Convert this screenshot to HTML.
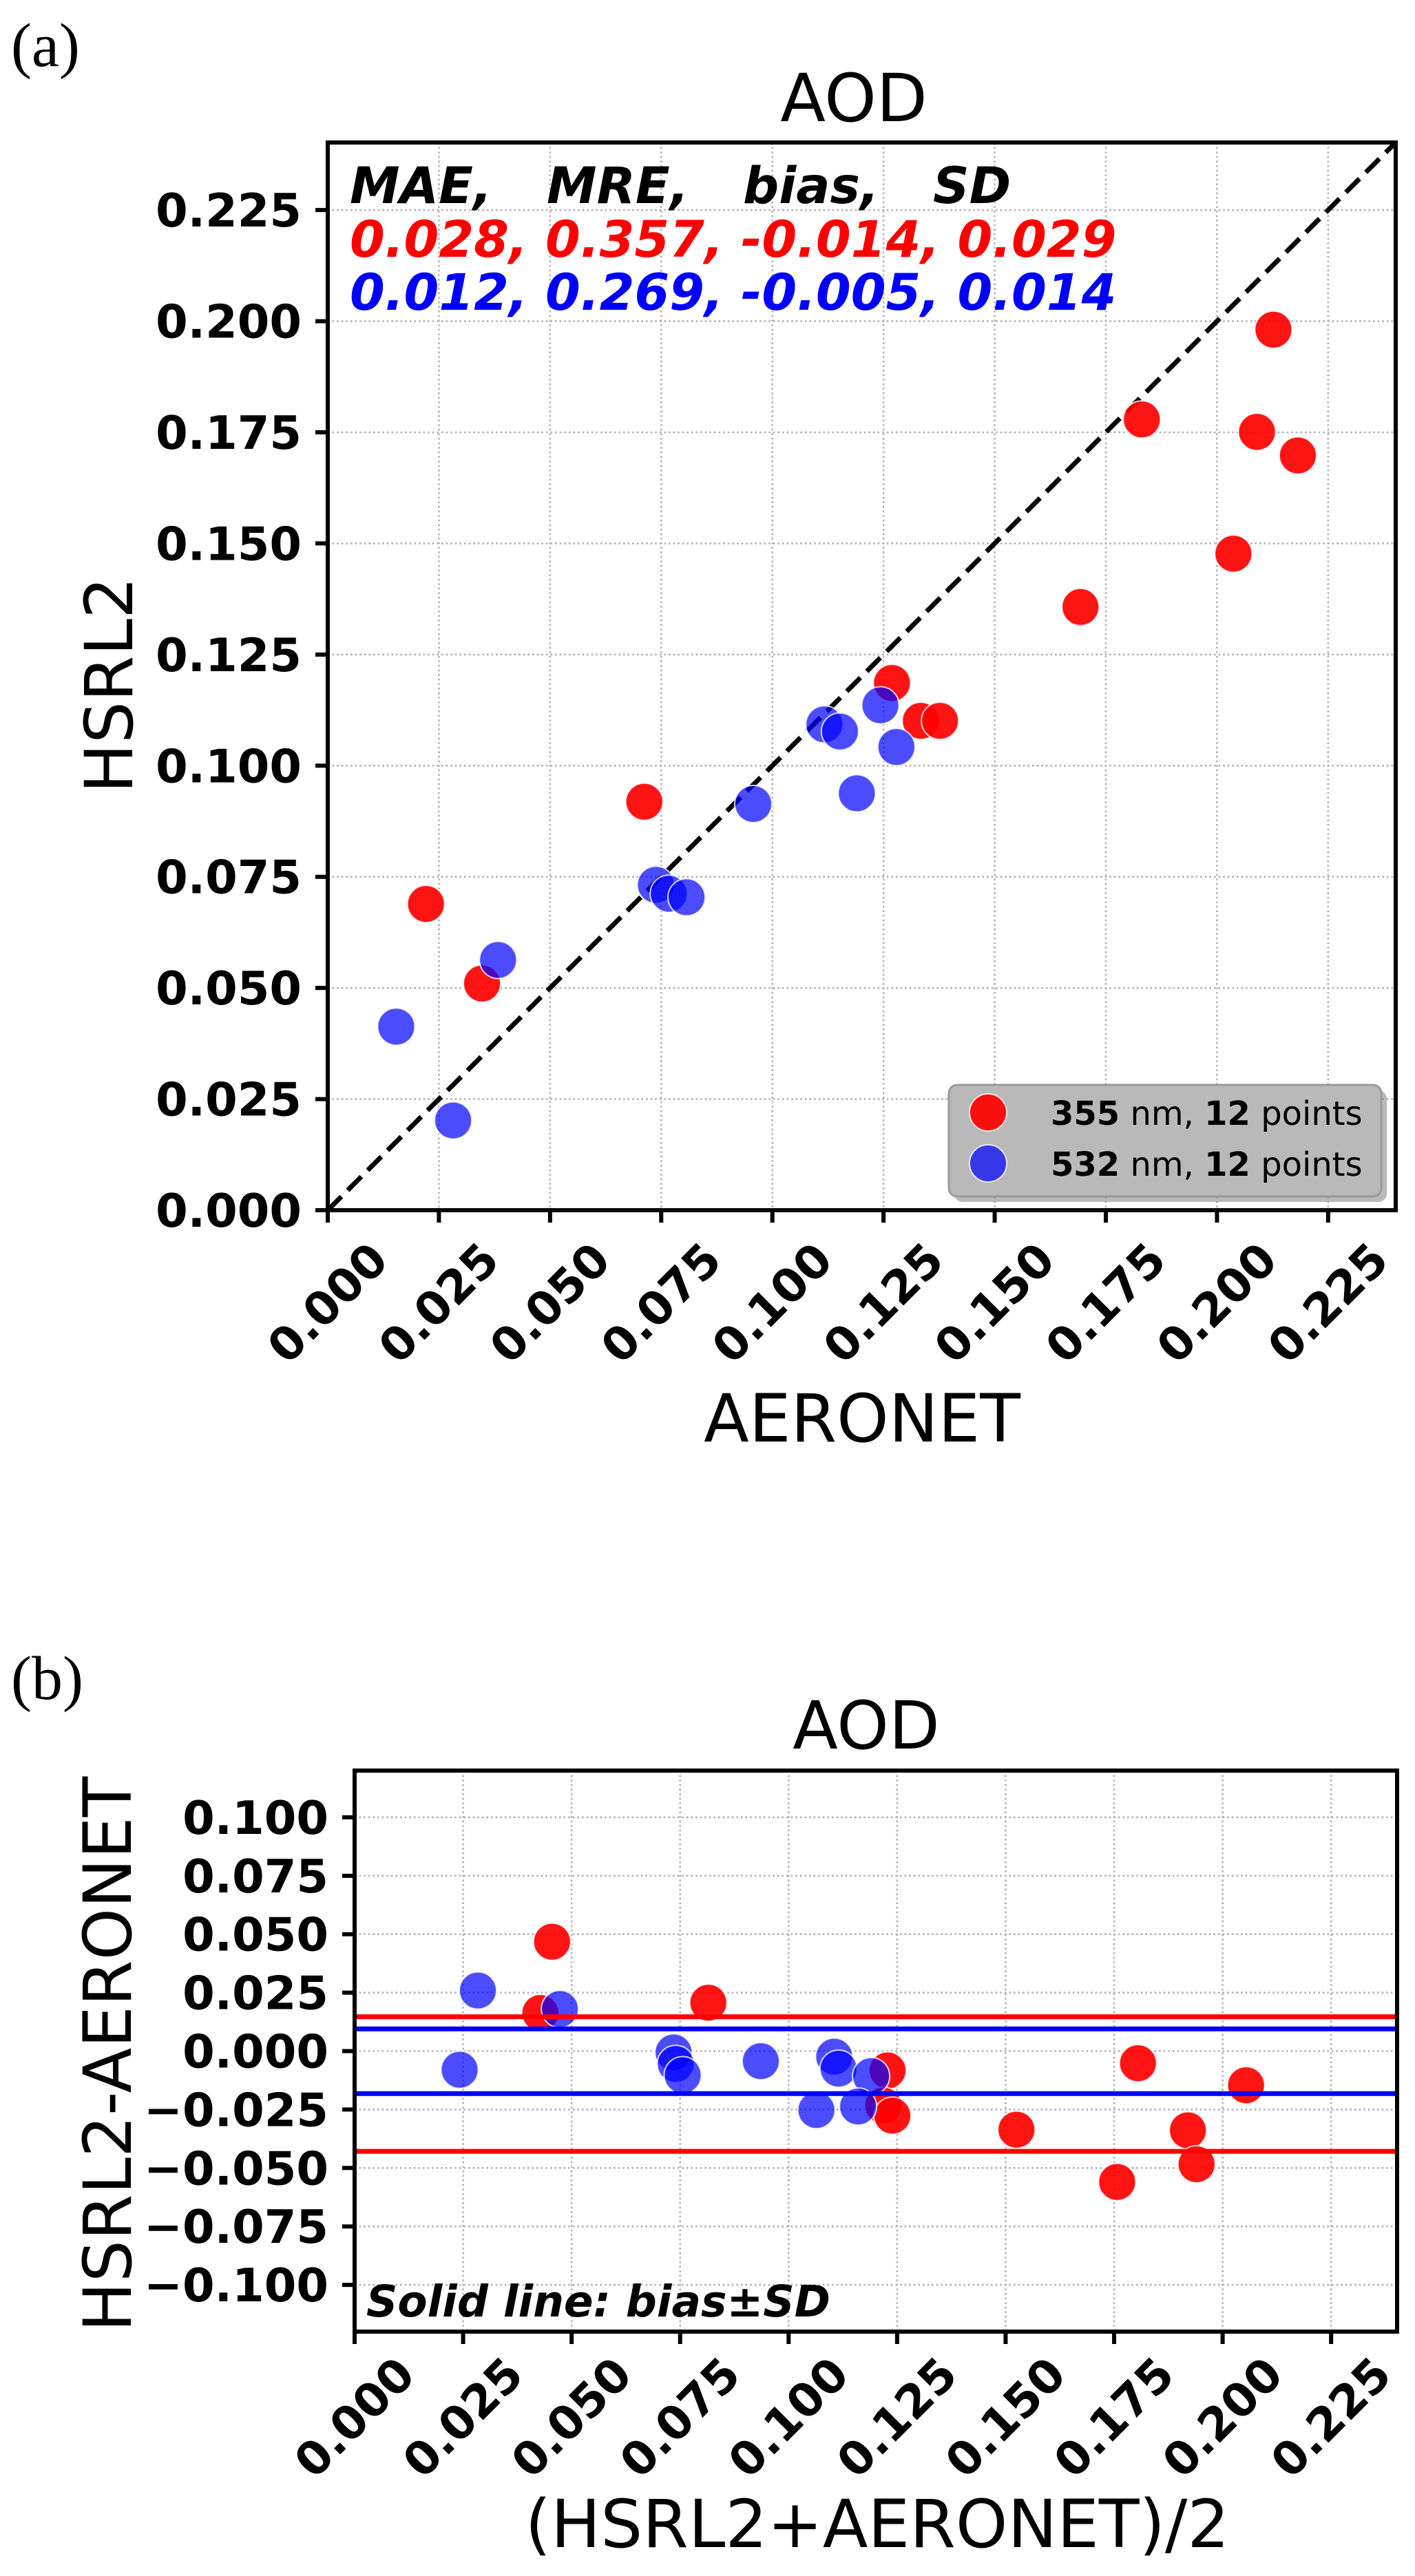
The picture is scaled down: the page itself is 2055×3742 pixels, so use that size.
<!DOCTYPE html>
<html><head><meta charset="utf-8"><style>
html,body{margin:0;padding:0;background:#fff}
svg{display:block}
text{font-family:"DejaVu Sans","Liberation Sans",sans-serif}
.tick{font-weight:bold;font-size:67px}
.lab{font-size:96px}
</style></head><body>
<svg id="fig" width="2055" height="3742" viewBox="0 0 2055 3742" xmlns="http://www.w3.org/2000/svg">
<text x="16" y="96" style="font-family:'Liberation Serif',serif" font-size="90">(a)</text>
<text x="16" y="2468" style="font-family:'Liberation Serif',serif" font-size="90">(b)</text>
<g id="pa"></g>
<g id="pb"></g>
</svg>
<script>
const ticks = [0, 0.025, 0.05, 0.075, 0.1, 0.125, 0.15, 0.175, 0.2, 0.225];
const tickLabels = ["0.000","0.025","0.050","0.075","0.100","0.125","0.150","0.175","0.200","0.225"];
const bTicksY = [-0.1, -0.075, -0.05, -0.025, 0, 0.025, 0.05, 0.075, 0.1];
const bTickLabelsY = ["\u22120.100","\u22120.075","\u22120.050","\u22120.025","0.000","0.025","0.050","0.075","0.100"];
const red355X = [0.0221,0.0347,0.0712,0.1269,0.1334,0.1377,0.1693,0.1831,0.2037,0.2090,0.2127,0.2182];
const red355Y = [0.0689,0.0510,0.0919,0.1186,0.1101,0.1101,0.1357,0.1779,0.1477,0.1751,0.1981,0.1698];
const blue532X = [0.0154,0.0282,0.0383,0.0738,0.0767,0.0807,0.0957,0.1117,0.1152,0.1190,0.1243,0.1279];
const blue532Y = [0.0413,0.0202,0.0563,0.0732,0.0712,0.0704,0.0914,0.1093,0.1077,0.0938,0.1136,0.1042];
const redMean = [0.0455,0.0428,0.0815,0.1228,0.1218,0.1239,0.1525,0.1805,0.1757,0.1920,0.2054,0.1940];
const redDiff = [0.0468,0.0163,0.0207,-0.0083,-0.0233,-0.0276,-0.0336,-0.0052,-0.0560,-0.0339,-0.0146,-0.0484];
const blueMean = [0.0284,0.0242,0.0473,0.0735,0.0740,0.0756,0.0936,0.1105,0.1115,0.1064,0.1190,0.1160];
const blueDiff = [0.0259,-0.0080,0.0180,-0.0006,-0.0055,-0.0103,-0.0043,-0.0024,-0.0075,-0.0252,-0.0107,-0.0237];
const redLines = [0.0147, -0.0429];
const blueLines = [0.0095, -0.0182];

const NS="http://www.w3.org/2000/svg";
function mk(parent, tag, attrs, txt){const e=document.createElementNS(NS,tag);for(const k in attrs)e.setAttribute(k,attrs[k]);if(txt!==undefined)e.textContent=txt;parent.appendChild(e);return e;}

function axes(g, L, T, R, B, xmin, xmax, ymin, ymax, yt){
  const sx=v=>L+(v-xmin)/(xmax-xmin)*(R-L);
  const sy=v=>B-(v-ymin)/(ymax-ymin)*(B-T);
  ticks.forEach(t=>{const gl=mk(g,'line',{x1:sx(t),x2:sx(t),y1:T,y2:B,stroke:'#b0b0b0','stroke-width':2.6,'stroke-dasharray':'2.6 4'});
    });
  yt.forEach(t=>{const gl=mk(g,'line',{x1:L,x2:R,y1:sy(t),y2:sy(t),stroke:'#b0b0b0','stroke-width':2.6,'stroke-dasharray':'2.6 4'});
    });
  return {sx,sy};
}
function frame(g,L,T,R,B,yt,ytl,sx,sy,labY){
  const f=mk(g,'rect',{x:L,y:T,width:R-L,height:B-T,fill:'none',stroke:'#000','stroke-width':6});
  
  ticks.forEach((t,i)=>{
    const tk=mk(g,'line',{x1:sx(t),x2:sx(t),y1:B,y2:B+18,stroke:'#000','stroke-width':6});
    
    const cy=labY;
    const tl=mk(g,'text',{class:'tick',x:sx(t),y:cy,'text-anchor':'middle','dominant-baseline':'central',transform:`rotate(-45 ${sx(t)} ${cy})`},tickLabels[i]);
    
  });
  yt.forEach((t,i)=>{
    const tk=mk(g,'line',{x1:L-18,x2:L,y1:sy(t),y2:sy(t),stroke:'#000','stroke-width':6});
    
    const tl=mk(g,'text',{class:'tick',x:L-38,y:sy(t)+24,'text-anchor':'end'},ytl[i]);
    
  });
}
function dot(g,x,y,color,op,name){
  const c=mk(g,'circle',{cx:x,cy:y,r:27,fill:color,'fill-opacity':op,stroke:'#fff','stroke-opacity':0.8,'stroke-width':2});
  
}

// Panel a
(function(){
  const g=document.getElementById('pa');
  const L=476,T=207,R=2027,B=1758;
  const {sx,sy}=axes(g,L,T,R,B,0,0.2402,0,0.2402,ticks);
  const d=mk(g,'line',{x1:sx(0),y1:sy(0),x2:sx(0.2402),y2:sy(0.2402),stroke:'#000','stroke-width':7,'stroke-dasharray':'28 13'});
  
  red355X.forEach((x,i)=>dot(g,sx(x),sy(red355Y[i]),'#ff0000',0.92,'point-355nm'));
  blue532X.forEach((x,i)=>dot(g,sx(x),sy(blue532Y[i]),'#0000ff',0.7,'point-532nm'));
  frame(g,L,T,R,B,ticks,tickLabels,sx,sy,1893);
  const st='font-weight:bold;font-style:italic;font-size:73px';
  [['MAE,',508],['MRE,',794],['bias,',1079],['SD',1355]].forEach(a=>{
    const t=mk(g,'text',{x:a[1],y:295,style:st},a[0]);});
  const r=mk(g,'text',{x:508,y:373,style:st,fill:'#ff0000'},'0.028, 0.357, -0.014, 0.029');
  
  const b=mk(g,'text',{x:508,y:450,style:st,fill:'#0000ff'},'0.012, 0.269, -0.005, 0.014');
  
  const lg=mk(g,'g',{});
  mk(lg,'rect',{x:1386,y:1584,width:628,height:162,rx:12,fill:'#8a8a8a','fill-opacity':0.6});
  mk(lg,'rect',{x:1378,y:1576,width:628,height:162,rx:12,fill:'#b9b9b9',stroke:'#9a9a9a','stroke-width':3});
  dot(lg,1435,1616,'#ff0000',0.92,'legend-marker-355');
  dot(lg,1435,1690,'#0000ff',0.7,'legend-marker-532');
  const l1=mk(lg,'text',{x:1526,y:1634,'font-size':48});l1.innerHTML='<tspan font-weight="bold">355</tspan> nm, <tspan font-weight="bold">12</tspan> points';
  
  const l2=mk(lg,'text',{x:1526,y:1708,'font-size':48});l2.innerHTML='<tspan font-weight="bold">532</tspan> nm, <tspan font-weight="bold">12</tspan> points';
  
  const ti=mk(g,'text',{class:'lab',x:1240,y:176,'text-anchor':'middle'},'AOD');
  const xl=mk(g,'text',{class:'lab',x:1252,y:2094,'text-anchor':'middle'},'AERONET');
  const yl=mk(g,'text',{class:'lab',x:0,y:0,'text-anchor':'middle',transform:'translate(192 995) rotate(-90)'},'HSRL2');
})();

// Panel b
(function(){
  const g=document.getElementById('pb');
  const L=515,T=2572,R=2029,B=3387;
  const {sx,sy}=axes(g,L,T,R,B,0,0.2402,-0.12,0.12,bTicksY);
  redMean.forEach((x,i)=>dot(g,sx(x),sy(redDiff[i]),'#ff0000',0.92,'diff-point-355nm'));
  blueMean.forEach((x,i)=>dot(g,sx(x),sy(blueDiff[i]),'#0000ff',0.7,'diff-point-532nm'));
  redLines.forEach(v=>{const l=mk(g,'line',{x1:L,x2:R,y1:sy(v),y2:sy(v),stroke:'#ff0000','stroke-width':7});});
  blueLines.forEach(v=>{const l=mk(g,'line',{x1:L,x2:R,y1:sy(v),y2:sy(v),stroke:'#0000ff','stroke-width':7});});
  frame(g,L,T,R,B,bTicksY,bTickLabelsY,sx,sy,3512);
  const s=mk(g,'text',{x:532,y:3365,style:'font-weight:bold;font-style:italic;font-size:63px'},'Solid line: bias\u00b1SD');
  
  const ti=mk(g,'text',{class:'lab',x:1258,y:2540,'text-anchor':'middle'},'AOD');
  const xl=mk(g,'text',{class:'lab',x:1274,y:3700,'text-anchor':'middle','font-size':94},'(HSRL2+AERONET)/2');
  const yl=mk(g,'text',{class:'lab',x:0,y:0,'text-anchor':'middle','font-size':93,transform:'translate(190 2984) rotate(-90)'},'HSRL2-AERONET');
})();
</script>
</body></html>
